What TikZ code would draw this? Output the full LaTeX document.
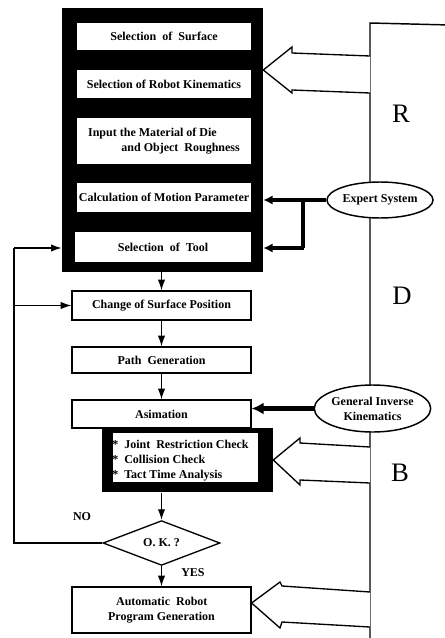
\documentclass[tikz,border=0pt]{standalone}
\usepackage{fontspec}
\setmainfont{Liberation Serif}
\usetikzlibrary{arrows.meta,shapes.geometric}
\begin{document}
\begin{tikzpicture}[x=0.75pt,y=-0.75pt,
  txt/.style={font=\fontsize{9}{11.25}\selectfont\bfseries},
  wbox/.style={txt,fill=white,inner sep=0pt,minimum width=130.5pt},
  fbox/.style={txt,draw,line width=0.9pt,fill=white,inner sep=0pt,minimum width=134.25pt},
  blkbox/.style={fill=black,inner sep=0pt},
  flow/.style={line width=1pt,-{Latex[length=8pt,width=5.5pt]}},
  thick arrow/.style={line width=2.6pt,-{Latex[length=7pt,width=7pt]}},
  oval/.style={txt,draw,ellipse,line width=1.1pt,fill=white,inner sep=0pt},
  blockarrow/.style={draw,line width=1pt,fill=white,line join=miter},
  letter/.style={font=\fontsize{20}{24}\selectfont},
  frame/.style={line width=1.1pt}]
\useasboundingbox (0,0) rectangle (445,638);
\fill[white] (0,0) rectangle (445,638);
% RDB frame
\coordinate (fb) at (370,645);
\coordinate (ft) at (370,23);
\coordinate (fr) at (450,25);
\draw[frame] (fb) -- (ft) -- (fr);
\node[letter] (R) at (401,114) {R};
\node[letter] (D) at (402,296) {D};
\node[letter] (B) at (400,473) {B};
% big black panel
\node[blkbox,minimum width=150.75pt,minimum height=198pt] (panel) at (162.5,140) {};
\node[wbox,minimum height=20.25pt] (surf) at (164,36.5) {Selection\ \ of\ \ Surface};
\node[wbox,minimum height=21pt] (kin) at (164,84) {Selection of Robot Kinematics};
\node[wbox,minimum height=34.5pt,align=left] (mat) at (164,141) {Input the Material of Die\\\hspace*{25pt}and Object\ \ Roughness};
\node[wbox,minimum height=21.75pt] (calc) at (164,197.5) {Calculation of Motion Parameter};
\node[wbox,minimum width=132pt,minimum height=22.5pt] (tool) at (163,247) {Selection\ \ of\ \ Tool};
% flow boxes
\node[fbox,minimum height=21.75pt] (chg) at (161.5,305.5) {Change of Surface Position};
\node[fbox,minimum height=19.5pt] (path) at (161.5,360) {Path\ \ Generation};
\node[fbox,minimum height=21pt] (anim) at (161.5,414) {Asimation};
\node[blkbox,minimum width=128.25pt,minimum height=48pt,anchor=north] (chk) at (187.5,428) {};
\node[wbox,minimum width=108.75pt,minimum height=36.75pt] (chkin) at (185.5,457.5) {};
\node[txt,align=left,anchor=west,inner sep=0pt] (chktxt) at (112,461) {*\ \ Joint\ \ Restriction Check\\*\ \ Collision Check\\*\ \ Tact Time Analysis};
\node[txt,draw,diamond,line width=1pt,fill=white,inner sep=0pt,minimum width=87.75pt,minimum height=27.75pt] (ok) at (161.5,543) {O. K. ?};
\node[fbox,minimum height=34.5pt,align=left] (auto) at (161.5,610) {\hspace*{6pt}Automatic\ \ Robot\\Program Generation};
\node[txt] (no) at (82,517) {NO};
\node[txt] (yes) at (193,573) {YES};
% ovals
\node[oval,minimum width=78pt,minimum height=27pt] (exp) at (380,200) {Expert System};
\node[oval,minimum width=86.25pt,minimum height=35.25pt,align=center] (gik) at (372.5,408.5) {General Inverse\\Kinematics};
% flow arrows
\draw[flow] (panel.south -| chg.north) -- (chg.north);
\draw[flow] (chg) -- (path);
\draw[flow] (path) -- (anim);
\draw[flow] (chk.south -| ok.north) -- (ok.north);
\draw[flow] (ok) -- (auto);
% feedback
\coordinate (lb) at (14,543);
\coordinate (lt) at (14,248);
\draw[line width=1pt] (ok.west) -- (lb) -- (lt);
\draw[flow] (lt) -- (panel.west |- lt);
\draw[flow] (lb |- chg.west) -- (chg.west);
% expert system arrows
\coordinate (br) at (303,200);
\coordinate (bb) at (303,248);
\draw[thick arrow] (exp.west) -- (panel.east |- exp.west);
\draw[line width=2.6pt] (br) -- (bb);
\draw[thick arrow] ([xshift=1pt]bb) -- (panel.east |- bb);
% gik arrow
\draw[line width=3.5pt,-{Latex[length=9pt,width=9pt]}] (gik.west) -- (anim.east |- gik.west);
% block arrows
\draw[blockarrow] (370,56) -- (292,53) -- (292,47) -- (panel.east |- 0,70) -- (292,93) -- (292,90) -- (370,93);
\draw[blockarrow] (370,447) -- (300,443) -- (300,438) -- (chk.east |- 0,460) -- (300,485) -- (300,480) -- (370,483);
\draw[blockarrow] (370,592) -- (282,586) -- (280,582) -- (auto.east |- 0,603) -- (280,628) -- (282,622) -- (370,627);
\end{tikzpicture}
\end{document}
